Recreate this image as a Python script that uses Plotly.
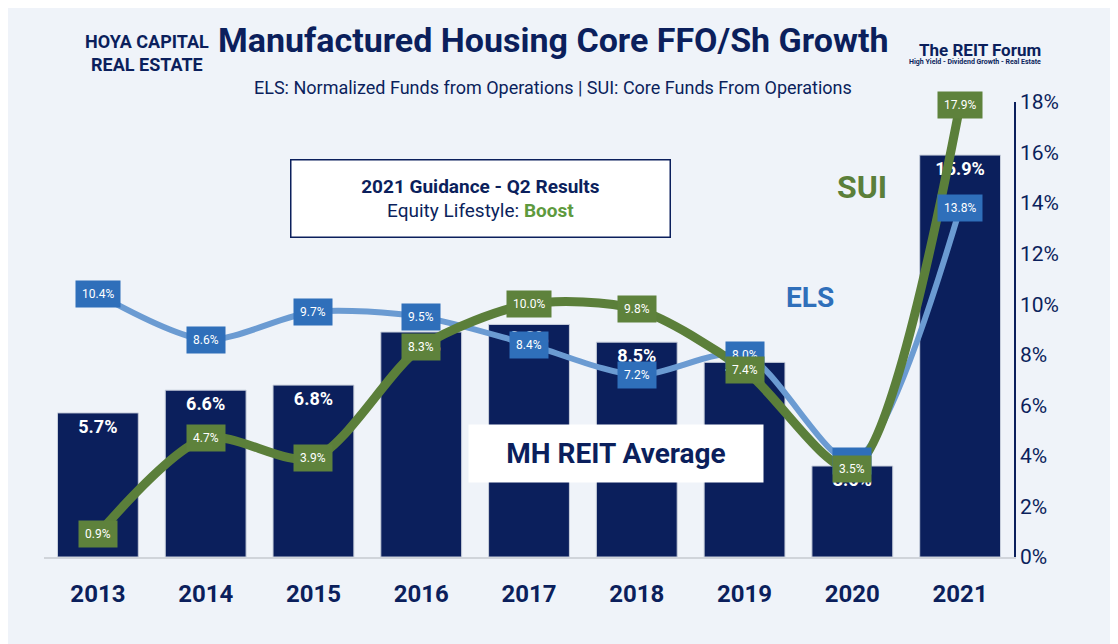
import plotly.graph_objects as go

# Chart values
years = ['2013', '2014', '2015', '2016', '2017', '2018', '2019', '2020', '2021']
mh_avg = [5.7, 6.6, 6.8, 8.9, 9.2, 8.5, 7.7, 3.6, 15.9]
els = [10.4, 8.6, 9.7, 9.5, 8.4, 7.2, 8.0, 3.8, 13.8]
sui = [0.9, 4.7, 3.9, 8.3, 10.0, 9.8, 7.4, 3.5, 17.9]
y_ticks = list(range(0, 20, 2))

NAVY = '#0b1f5c'
ELS_LINE = '#6b9bd2'
ELS_BOX = '#2f6fba'
SUI_LINE = '#5b7f3a'
SUI_BOX = '#5e823c'
FONT = 'Roboto'

x_pos = list(range(len(years)))  # category slots

fig = go.Figure()

# Bars - MH REIT average
fig.add_trace(go.Bar(
    x=x_pos, y=mh_avg, width=0.75,
    marker=dict(color=NAVY, line=dict(color='#c8cfdc', width=1)),
    text=[f'<b>{v:.1f}%</b>' for v in mh_avg],
    textposition='inside', insidetextanchor='end',
    textfont=dict(color='white', size=18, family=FONT), textangle=0,
    hoverinfo='skip'
))

# Lines
fig.add_trace(go.Scatter(x=x_pos, y=els, mode='lines',
                         line=dict(color=ELS_LINE, width=6, shape='spline', smoothing=0.8)))
fig.add_trace(go.Scatter(x=x_pos, y=sui, mode='lines',
                         line=dict(color=SUI_LINE, width=9, shape='spline', smoothing=0.8)))

# Value boxes on the lines
for i, v in zip(x_pos, els):
    fig.add_annotation(x=i, y=v, text=f'{v:.1f}%', showarrow=False,
                       bgcolor=ELS_BOX, font=dict(color='white', size=12, family=FONT),
                       borderpad=6)
for i, v in zip(x_pos, sui):
    fig.add_annotation(x=i, y=v, text=f'{v:.1f}%', showarrow=False,
                       bgcolor=SUI_BOX, font=dict(color='white', size=12, family=FONT),
                       borderpad=6)

# Titles and labels
fig.add_annotation(xref='paper', yref='paper', x=0.525, y=1.185, showarrow=False,
                   text='<b>Manufactured Housing Core FFO/Sh Growth</b>',
                   font=dict(size=34, color=NAVY, family=FONT))
fig.add_annotation(xref='paper', yref='paper', x=0.525, y=1.06, showarrow=False,
                   text='ELS: Normalized Funds from Operations | SUI: Core Funds From Operations',
                   font=dict(size=18, color=NAVY, family=FONT))
fig.add_annotation(xref='paper', yref='paper', x=0.45, y=0.875, showarrow=False,
                   text='<b>2021 Guidance - Q2 Results</b><br>Equity Lifestyle: '
                        '<b><span style="color:#5e9a3e">Boost</span></b>',
                   font=dict(size=19, color=NAVY, family=FONT),
                   bgcolor='white', bordercolor=NAVY, borderwidth=1.5,
                   borderpad=14, width=350)
fig.add_annotation(xref='paper', yref='paper', x=0.59, y=0.162, showarrow=False,
                   text='<b>MH REIT Average</b>', font=dict(size=28, color=NAVY, family=FONT),
                   bgcolor='white', borderpad=12, width=270)
fig.add_annotation(xref='paper', yref='paper', x=0.871, y=0.86, showarrow=False,
                   text='<b>SUI</b>', font=dict(size=32, color=SUI_LINE, family=FONT))
fig.add_annotation(xref='paper', yref='paper', x=0.817, y=0.57, showarrow=False,
                   text='<b>ELS</b>', font=dict(size=28, color=ELS_BOX, family=FONT))

# Logos as text
fig.add_annotation(xref='paper', yref='paper', x=0.04, y=1.16, showarrow=False,
                   text='<b>HOYA CAPITAL</b><br><b>REAL ESTATE</b>',
                   font=dict(size=18, color=NAVY, family=FONT))
fig.add_annotation(xref='paper', yref='paper', x=1.03, y=1.14, showarrow=False,
                   text='<b>The REIT Forum</b>', font=dict(size=17, color=NAVY, family=FONT))
fig.add_annotation(xref='paper', yref='paper', x=1.03, y=1.1, showarrow=False,
                   text='<b>High Yield - Dividend Growth - Real Estate</b>',
                   font=dict(size=7, color=NAVY, family=FONT))

fig.update_layout(
    width=1118, height=644,
    margin=dict(l=36, r=112, t=94, b=95),
    paper_bgcolor='#eff3f9', plot_bgcolor='#eff3f9',
    showlegend=False,
    xaxis=dict(range=[-0.5, len(years) - 0.5], tickvals=x_pos,
               ticktext=[f'<b>{y}</b>' for y in years],
               tickfont=dict(size=24, color=NAVY, family=FONT), showgrid=False,
               showline=True, linecolor='#d0d4da', linewidth=2, ticklen=0, zeroline=False,
               ticklabelstandoff=14),
    yaxis=dict(side='right', range=[0, 18], tickvals=y_ticks,
               ticktext=[f'{t}%' for t in y_ticks], showgrid=False,
               tickfont=dict(size=21, color=NAVY, family=FONT),
               showline=True, linecolor=NAVY, linewidth=1.5, zeroline=False),
)

fig.write_html('out.html')
